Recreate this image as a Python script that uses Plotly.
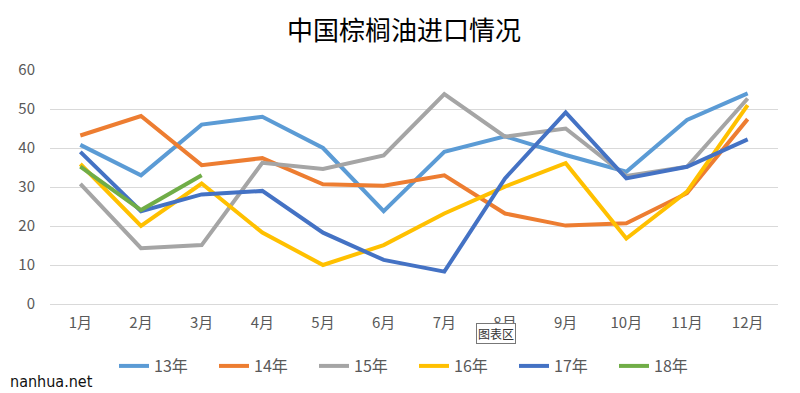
import plotly.graph_objects as go

months = ["1月", "2月", "3月", "4月", "5月", "6月", "7月", "8月", "9月", "10月", "11月", "12月"]
s13 = [40.8, 33, 46, 48, 40, 23.8, 39, 43, 38.2, 33.9, 47.2, 54]
s14 = [43.2, 48.2, 35.6, 37.4, 30.7, 30.3, 33, 23.2, 20.1, 20.7, 28.4, 47.4]
s15 = [30.8, 14.3, 15.1, 36.2, 34.6, 38.1, 53.8, 42.9, 45, 32.8, 35.2, 52.7]
s16 = [35.9, 20, 30.9, 18.3, 10, 15.1, 23.2, 30.1, 36.1, 16.8, 28.8, 51]
s17 = [39, 23.8, 28.1, 29, 18.3, 11.3, 8.3, 32.2, 49.1, 32.2, 35.2, 42.2]
s18 = [35.2, 24.1, 33]
names = ["13年", "14年", "15年", "16年", "17年", "18年"]
colors = ["#5B9BD5", "#ED7D31", "#A5A5A5", "#FFC000", "#4472C4", "#70AD47"]
series = [s13, s14, s15, s16, s17, s18]

font = "Noto Sans CJK SC, Noto Sans, sans-serif"
fig = go.Figure()
for n, c, s in zip(names, colors, series):
    fig.add_trace(go.Scatter(x=months[:len(s)], y=s, name=n, mode="lines",
                             line=dict(color=c, width=4)))

W, H = 792, 385
fig.update_layout(
    width=W, height=H,
    margin=dict(l=42, r=22, t=62, b=89, autoexpand=False),
    paper_bgcolor="white", plot_bgcolor="white",
    font=dict(family=font, color="#595959", size=15),
    title=dict(text="中国棕榈油进口情况", x=0.5, xanchor="center", y=1 - 23 / H, yanchor="middle",
               font=dict(size=26, color="#000000", family=font)),
    showlegend=True,
    legend=dict(orientation="h", x=0.5, xanchor="center", y=-0.265, yanchor="middle",
                font=dict(size=16, color="#595959"), entrywidth=55, entrywidthmode="pixels"),
    xaxis=dict(type="category", categoryorder="array", categoryarray=months,
               range=[-0.5, 11.5], showgrid=False, showline=False, ticks="",
               tickfont=dict(size=15, color="#595959"), ticklabelstandoff=8),
    yaxis=dict(range=[0, 60], dtick=10, showgrid=True, gridcolor="#D9D9D9", gridwidth=1.3,
               zeroline=True, zerolinecolor="#D9D9D9", zerolinewidth=1.3,
               tickfont=dict(size=15, color="#595959"), ticklabelstandoff=14),
)
fig.add_annotation(text="图表区", xref="paper", yref="paper", x=0.613, y=-0.124,
                   xanchor="center", yanchor="middle", showarrow=False,
                   font=dict(size=12, color="#333333", family=font),
                   bgcolor="white", bordercolor="#777777", borderwidth=1, borderpad=1)
fig.add_annotation(text="nanhua.net", xref="paper", yref="paper", x=-42 / 728, y=-0.333,
                   xanchor="left", yanchor="middle", showarrow=False,
                   font=dict(size=16, color="#111111", family="Liberation Sans Narrow, DejaVu Sans Condensed, sans-serif"))
fig.write_html("out.html")
